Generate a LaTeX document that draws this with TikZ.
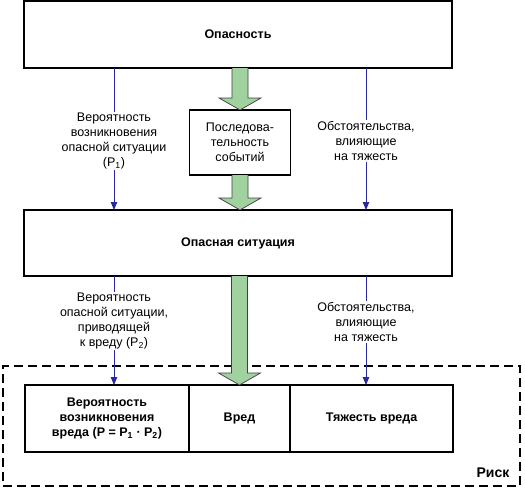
\documentclass[tikz,border=0pt]{standalone}
\usepackage{fontspec}
\setmainfont{Liberation Sans}
\usepackage{tikz}
\usetikzlibrary{positioning, arrows.meta, calc}

\definecolor{arrgreen}{RGB}{160,210,160}
\definecolor{linkblue}{RGB}{40,40,160}

% thick green flow arrow between two points
\newcommand{\fatarrow}[2]{%
  \draw[flow] ($(#1)+(-8,0)$) -- ($(#2)+(-8,-12)$) -- ($(#2)+(-21,-12)$) -- (#2)
    -- ($(#2)+(21,-12)$) -- ($(#2)+(8,-12)$) -- ($(#1)+(8,0)$);}

\begin{document}
\begin{tikzpicture}[x=1pt, y=-1pt,
    box/.style={draw, line width=1.2pt, outer sep=0pt, align=center,
        font=\fontsize{12.5}{15}\selectfont\bfseries},
    lbl/.style={align=center, inner sep=1pt, font=\fontsize{12.5}{15}\selectfont},
    link/.style={draw=linkblue, line width=0.9pt},
    flow/.style={fill=arrgreen, draw=black!75, line width=0.7pt, line join=miter},
    riskframe/.style={draw, line width=1.4pt, dash pattern=on 9pt off 5pt}]
    \useasboundingbox (0,0) rectangle (525,488);

    % main boxes
    \node[box, minimum width=428, minimum height=67] (haz) at (238,34.5) {Опасность};
    \node[box, minimum width=101, minimum height=65, font=\fontsize{12.5}{15}\selectfont] (seq) at (240,142.5) {Последова-\\тельность\\событий};
    \node[box, minimum width=428, minimum height=66] (sit) at (238,243) {Опасная ситуация};

    % risk components
    \node[box, minimum width=164, minimum height=67] (prob) at (107,418.5) {Вероятность\\возникновения\\вреда (P = P\textsubscript{1} · P\textsubscript{2})};
    \node[box, minimum width=101, minimum height=67, anchor=west] (harm) at (prob.east) {Вред};
    \node[box, minimum width=163, minimum height=67, anchor=west] (sev) at (harm.east) {Тяжесть вреда};
    \node[riskframe, minimum width=517, minimum height=120] (risk) at (261.5,426) {};
    \node[box, draw=none, anchor=base east, font=\fontsize{14}{16}\selectfont\bfseries] (risklbl) at ($(risk.south east)+(-8,-9)$) {Риск};

    % labels on the blue links
    \node[lbl] (pa) at (114,141) {Вероятность\\возникновения\\опасной ситуации\\(P\textsubscript{1})};
    \node[lbl] (pb) at (366,141) {Обстоятельства,\\влияющие\\на тяжесть};
    \node[lbl] (pc) at (114,321) {Вероятность\\опасной ситуации,\\приводящей\\к вреду (P\textsubscript{2})};
    \node[lbl] (pd) at (366,322) {Обстоятельства,\\влияющие\\на тяжесть};

    \foreach \a/\b/\c in {haz/pa/sit, haz/pb/sit, sit/pc/prob, sit/pd/sev} {
        \draw[link] (\a.south -| \b.north) -- (\b.north);
        \draw[link, -{Triangle[length=8pt, width=6.5pt]}] (\b.south) -- (\b.south |- \c.north);
    }

    % green flow
    \fatarrow{haz.south -| seq.north}{seq.north}
    \fatarrow{seq.south}{sit.north -| seq.south}
    \fatarrow{sit.south -| harm.north}{harm.north}
\end{tikzpicture}
\end{document}
